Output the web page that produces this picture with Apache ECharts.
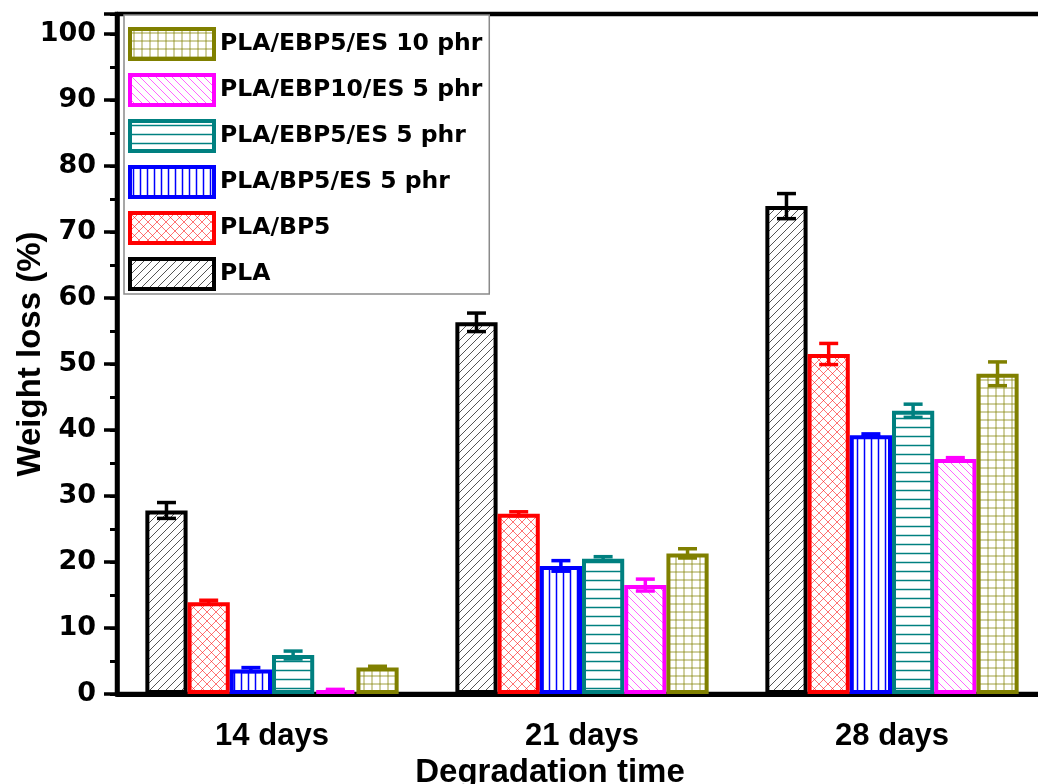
<!DOCTYPE html>
<html>
<head>
<meta charset="utf-8">
<script src="https://cdn.jsdelivr.net/npm/echarts@6/dist/echarts.min.js"></script>
<style>
  html, body { margin: 0; padding: 0; background: #ffffff; }
  #chart { width: 1038px; height: 784px; }
</style>
</head>
<body>
<div id="chart"></div>
<script>
// Degradation periods on the x axis
const categories = ['14 days', '21 days', '28 days'];

// Sample names, in drawing order (left to right inside each group)
const seriesNames = ['PLA', 'PLA/BP5', 'PLA/BP5/ES 5 phr', 'PLA/EBP5/ES 5 phr', 'PLA/EBP10/ES 5 phr', 'PLA/EBP5/ES 10 phr'];

// Weight loss (%) and standard deviation per sample
const plaValues = [27.8, 56.3, 73.9];
const plaErrors = [1.2, 1.4, 1.9];
const bp5Values = [13.9, 27.3, 51.5];
const bp5Errors = [0.3, 0.3, 1.6];
const bp5EsValues = [3.7, 19.4, 39.2];
const bp5EsErrors = [0.3, 0.8, 0.2];
const ebp5EsValues = [5.9, 20.5, 42.9];
const ebp5EsErrors = [0.6, 0.3, 1.0];
const ebp10EsValues = [0.6, 16.5, 35.6];
const ebp10EsErrors = [0.1, 0.9, 0.2];
const ebp5Es10Values = [4.0, 21.3, 48.5];
const ebp5Es10Errors = [0.2, 0.7, 1.8];

const allValues = [plaValues, bp5Values, bp5EsValues, ebp5EsValues, ebp10EsValues, ebp5Es10Values];
const allErrors = [plaErrors, bp5Errors, bp5EsErrors, ebp5EsErrors, ebp10EsErrors, ebp5Es10Errors];

const strokeColors = ['#000000', '#FF0000', '#0000FF', '#008080', '#FF00FF', '#808000'];
const hatchColors = ['#555555', 'rgba(255,0,0,0.55)', '#0000FF', '#008080', 'rgba(255,0,255,0.6)', 'rgba(128,128,0,0.75)'];
const hatchKinds = ['slash', 'cross', 'vertical', 'horizontal', 'backslash', 'grid'];

const CATEGORY_GAP = 0.183;

// Build a small repeating canvas tile for each hatch style
function makeTile(kind, color) {
  const s = { slash: 8, cross: 9, vertical: 7, horizontal: 9, backslash: 8, grid: 8 }[kind];
  const c = document.createElement('canvas');
  c.width = s; c.height = s;
  const g = c.getContext('2d');
  g.fillStyle = '#ffffff';
  g.fillRect(0, 0, s, s);
  g.strokeStyle = color;
  g.lineWidth = 1;
  const line = (x1, y1, x2, y2) => { g.beginPath(); g.moveTo(x1, y1); g.lineTo(x2, y2); g.stroke(); };
  if (kind === 'slash') {
    line(-1, s + 1, s + 1, -1);
    line(-1, 1, 1, -1);
    line(s - 1, s + 1, s + 1, s - 1);
  } else if (kind === 'backslash') {
    line(-1, -1, s + 1, s + 1);
    line(s - 1, -1, s + 1, 1);
    line(-1, s - 1, 1, s + 1);
  } else if (kind === 'cross') {
    line(-1, -1, s + 1, s + 1);
    line(-1, s + 1, s + 1, -1);
  } else if (kind === 'vertical') {
    g.lineWidth = 1.5;
    line(s / 2, 0, s / 2, s);
  } else if (kind === 'horizontal') {
    g.lineWidth = 1.5;
    line(0, s / 2, s, s / 2);
  } else if (kind === 'grid') {
    line(s / 2, 0, s / 2, s);
    line(0, s / 2, s, s / 2);
  }
  return c;
}

const barSeries = seriesNames.map((name, i) => ({
  name: name,
  type: 'bar',
  data: allValues[i],
  barGap: '0%',
  barCategoryGap: (CATEGORY_GAP * 100) + '%',
  itemStyle: {
    color: { image: makeTile(hatchKinds[i], hatchColors[i]), repeat: 'repeat' },
    borderColor: strokeColors[i],
    borderWidth: 4
  },
  z: 2
}));

// Error bars drawn over each bar with the bar's own colour
const errorSeries = seriesNames.map((name, i) => ({
  name: name + ' SD',
  type: 'custom',
  z: 5,
  data: allValues[i].map((v, k) => [k, v, allErrors[i][k]]),
  encode: { x: 0, y: 1 },
  renderItem: function (params, api) {
    const cat = api.value(0);
    const v = api.value(1);
    const e = api.value(2);
    const bandWidth = api.size([1, 0])[0];
    const groupWidth = bandWidth * (1 - CATEGORY_GAP);
    const barWidth = groupWidth / seriesNames.length;
    const center = api.coord([cat, v]);
    const x = center[0] - groupWidth / 2 + barWidth * (i + 0.5);
    const yTop = api.coord([cat, v + e])[1];
    const yBot = api.coord([cat, v - e])[1];
    const half = 9.5;
    const style = { stroke: strokeColors[i], lineWidth: 3.5 };
    return {
      type: 'group',
      children: [
        { type: 'line', shape: { x1: x, y1: yTop, x2: x, y2: yBot }, style: style },
        { type: 'line', shape: { x1: x - half, y1: yTop, x2: x + half, y2: yTop }, style: style },
        { type: 'line', shape: { x1: x - half, y1: yBot, x2: x + half, y2: yBot }, style: style }
      ]
    };
  }
}));

const chart = echarts.init(document.getElementById('chart'), null, { renderer: 'canvas' });

chart.setOption({
  backgroundColor: '#ffffff',
  animation: false,
  textStyle: { fontFamily: 'Liberation Sans, Arial, sans-serif', color: '#000' },
  grid: {
    left: 117,
    top: 14,
    width: 930,
    bottom: 90,
    containLabel: false,
    outerBoundsMode: 'none',
    show: true,
    borderColor: '#000',
    borderWidth: 4.5,
    backgroundColor: 'transparent'
  },
  legend: {
    data: seriesNames.slice().reverse(),
    orient: 'vertical',
    left: 124,
    top: 15,
    padding: [12, 7, 3, 4],
    itemWidth: 84,
    itemHeight: 30,
    itemGap: 12,
    icon: 'rect',
    itemStyle: { borderWidth: 4 },
    borderColor: '#8a8a8a',
    borderWidth: 1.5,
    backgroundColor: '#ffffff',
    textStyle: {
      fontFamily: 'DejaVu Sans',
      fontWeight: 'bold',
      fontSize: 23.5,
      lineHeight: 30,
      color: '#000',
      padding: [0, 0, 0, 1]
    }
  },
  xAxis: {
    type: 'category',
    data: categories,
    name: 'Degradation time',
    nameLocation: 'middle',
    nameGap: 57,
    nameTextStyle: {
      fontFamily: 'Liberation Sans',
      fontWeight: 'bold',
      fontSize: 33,
      color: '#000',
      padding: [0, 64, 0, 0]
    },
    axisLine: { lineStyle: { color: '#000', width: 5 } },
    axisTick: { alignWithLabel: true, length: 16, lineStyle: { color: '#000', width: 4 } },
    axisLabel: {
      fontFamily: 'Liberation Sans',
      fontWeight: 'bold',
      fontSize: 31,
      color: '#000',
      margin: 27
    },
    splitLine: { show: false }
  },
  yAxis: [
    {
      type: 'value',
      min: 0,
      max: 103,
      interval: 10,
      name: 'Weight loss (%)',
      nameLocation: 'middle',
      nameGap: 70,
      nameMoveOverlap: false,
      nameTextStyle: {
        fontFamily: 'Liberation Sans',
        fontWeight: 'bold',
        fontSize: 33,
        color: '#000'
      },
      axisLine: { show: true, lineStyle: { color: '#000', width: 4.5 } },
      axisTick: { show: true, length: 13, lineStyle: { color: '#000', width: 3.5 } },
      axisLabel: {
        fontFamily: 'DejaVu Sans',
        fontWeight: 'bold',
        fontSize: 27,
        color: '#000',
        margin: 21,
        formatter: v => (v % 10 === 0 && v <= 100) ? String(v) : ''
      },
      splitLine: { show: false }
    },
    {
      type: 'value',
      position: 'left',
      min: 0,
      max: 103,
      interval: 5,
      axisLine: { show: false },
      axisTick: { show: true, length: 7, lineStyle: { color: '#000', width: 3 } },
      axisLabel: { show: false },
      splitLine: { show: false }
    }
  ],
  series: barSeries.concat(errorSeries)
});
</script>
</body>
</html>
